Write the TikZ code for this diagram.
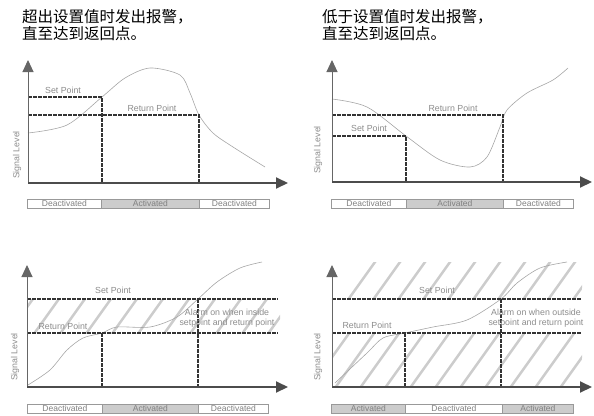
\documentclass[tikz,border=0pt]{standalone}
\usepackage{fontspec}
\setmainfont{Liberation Sans}
\newfontfamily\cjk{Noto Sans CJK SC}
\usetikzlibrary{positioning,matrix,arrows.meta}

\begin{document}
\begin{tikzpicture}[x=1pt,y=-1pt,
		yax/.style={draw=black!60,line width=1pt,-{Triangle[length=12pt,width=11pt]}},
		xax/.style={draw=black!70,line width=2pt,-{Triangle[length=12pt,width=11pt]}},
		lim/.style={draw=black!80,line width=1.6pt,dash pattern=on 3.5pt off 1.5pt},
		sig/.style={draw=black!35,line width=0.6pt},
		lbl/.style={text=black!45,font=\fontsize{8.8}{10}\selectfont,inner sep=0pt,align=center},
		hatch/.style={draw=black!20,line width=2.5pt},
		title/.style={font=\cjk\fontsize{15.5}{17.5}\selectfont,align=left,anchor=north west,inner sep=0pt},
		bar/.style={matrix of nodes,inner sep=0pt,anchor=north west,
		nodes={draw=black!40,minimum height=9pt,inner sep=0pt,text=black!50,font=\fontsize{8.5}{8.5}\selectfont},
		column sep=-\pgflinewidth}]
	\useasboundingbox (0,0) rectangle (594,415);
	
	% titles
	\node[title] (t1) at (22,9) {超出设置值时发出报警，\\直至达到返回点。};
	\node[title] (t2) at (322,9) {低于设置值时发出报警，\\直至达到返回点。};
	
	% upper left: alarm above set point
	\coordinate (o1) at (28,183);
	\coordinate (s1) at (102,97);
	\coordinate (r1) at (199,115);
	\draw[sig] plot[smooth] coordinates {(28,133) (67,125) (102,97) (125,78) (150,68) (180,75) (190,93) (199,115) (213,133) (233,147) (265,167)};
	\draw[lim] (o1 |- s1) -- (s1) -- (s1 |- o1);
	\draw[lim] (o1 |- r1) -- (r1) -- (r1 |- o1);
	\draw[yax] (o1) -- (28,60);
	\draw[xax] (o1) -- (288,183);
	\node[lbl] (sp1) at (63,90) {Set Point};
	\node[lbl] (rp1) at (152,108) {Return Point};
	\node[lbl,rotate=90] (sl1) at (17,155) {Signal Level};
	\matrix[bar] (b1) at (27,199) {
		|[minimum width=74pt]| Deactivated & |[minimum width=98pt,fill=black!20]| Activated & |[minimum width=70pt]| Deactivated\\};
	
	% upper right: alarm below set point
	\coordinate (o2) at (332,182);
	\coordinate (s2) at (406,136);
	\coordinate (r2) at (503,115);
	\draw[sig] plot[smooth] coordinates {(332,99) (367,107) (406,136) (440,160) (470,167) (487,157) (500,127) (507,110) (527,93) (553,80) (568,68)};
	\draw[lim] (o2 |- s2) -- (s2) -- (s2 |- o2);
	\draw[lim] (o2 |- r2) -- (r2) -- (r2 |- o2);
	\draw[yax] (o2) -- (332,60);
	\draw[xax] (o2) -- (592,182);
	\node[lbl] (rp2) at (453,108) {Return Point};
	\node[lbl] (sp2) at (369,128) {Set Point};
	\node[lbl,rotate=90] (sl2) at (318,150) {Signal Level};
	\matrix[bar] (b2) at (331,199) {
		|[minimum width=75pt]| Deactivated & |[minimum width=97pt,fill=black!20]| Activated & |[minimum width=70pt]| Deactivated\\};
	
	% lower left: alarm inside band
	\coordinate (o3) at (27,387);
	\coordinate (s3) at (198,299);
	\coordinate (r3) at (102,333);
	\begin{scope}
		\clip (27,299) rectangle (280,333);
		\foreach \x in {0,26,...,300}
			\draw[hatch] (\x,345) -- ++(40,-56);
	\end{scope}
	\draw[sig] plot[smooth] coordinates {(28,385) (50,370) (67,350) (83,338) (102,333) (117,327) (150,327) (177,317) (198,299) (217,282) (240,268) (262,262)};
	\draw[lim] (o3 |- s3) -- (278,299);
	\draw[lim] (o3 |- r3) -- (278,333);
	\draw[lim] (r3) -- (r3 |- o3);
	\draw[lim] (s3) -- (s3 |- o3);
	\draw[yax] (o3) -- (27,265);
	\draw[xax] (o3) -- (288,387);
	\node[lbl] (sp3) at (113,290) {Set Point};
	\node[lbl] (rp3) at (63,326) {Return Point};
	\node[lbl] (al3) at (227,318) {Alarm on when inside\\setpoint and return point};
	\node[lbl,rotate=90] (sl3) at (15,357) {Signal Level};
	\matrix[bar] (b3) at (27,404) {
		|[minimum width=75pt]| Deactivated & |[minimum width=96pt,fill=black!20]| Activated & |[minimum width=70pt]| Deactivated\\};
	
	% lower right: alarm outside band
	\coordinate (o4) at (332,387);
	\coordinate (s4) at (501,299);
	\coordinate (r4) at (405,333);
	\begin{scope}
		\clip (332,262) rectangle (582,299) (332,333) rectangle (582,387);
		\foreach \x in {280,305,...,600}
			\draw[hatch] (\x,395) -- ++(110,-154);
	\end{scope}
	\draw[sig] plot[smooth] coordinates {(335,383) (367,353) (383,338) (405,333) (433,327) (467,320) (501,299) (517,283) (540,268) (567,262)};
	\draw[lim] (o4 |- s4) -- (582,299);
	\draw[lim] (o4 |- r4) -- (582,333);
	\draw[lim] (r4) -- (r4 |- o4);
	\draw[lim] (s4) -- (s4 |- o4);
	\draw[yax] (o4) -- (332,265);
	\draw[xax] (o4) -- (592,387);
	\node[lbl] (sp4) at (437,290) {Set Point};
	\node[lbl] (rp4) at (367,325) {Return Point};
	\node[lbl] (al4) at (536,318) {Alarm on when outside\\setpoint and return point};
	\node[lbl,rotate=90] (sl4) at (318,357) {Signal Level};
	\matrix[bar] (b4) at (331,404) {
		|[minimum width=74pt,fill=black!20]| Activated & |[minimum width=97pt]| Deactivated & |[minimum width=71pt,fill=black!20]| Activated\\};
\end{tikzpicture}
\end{document}
